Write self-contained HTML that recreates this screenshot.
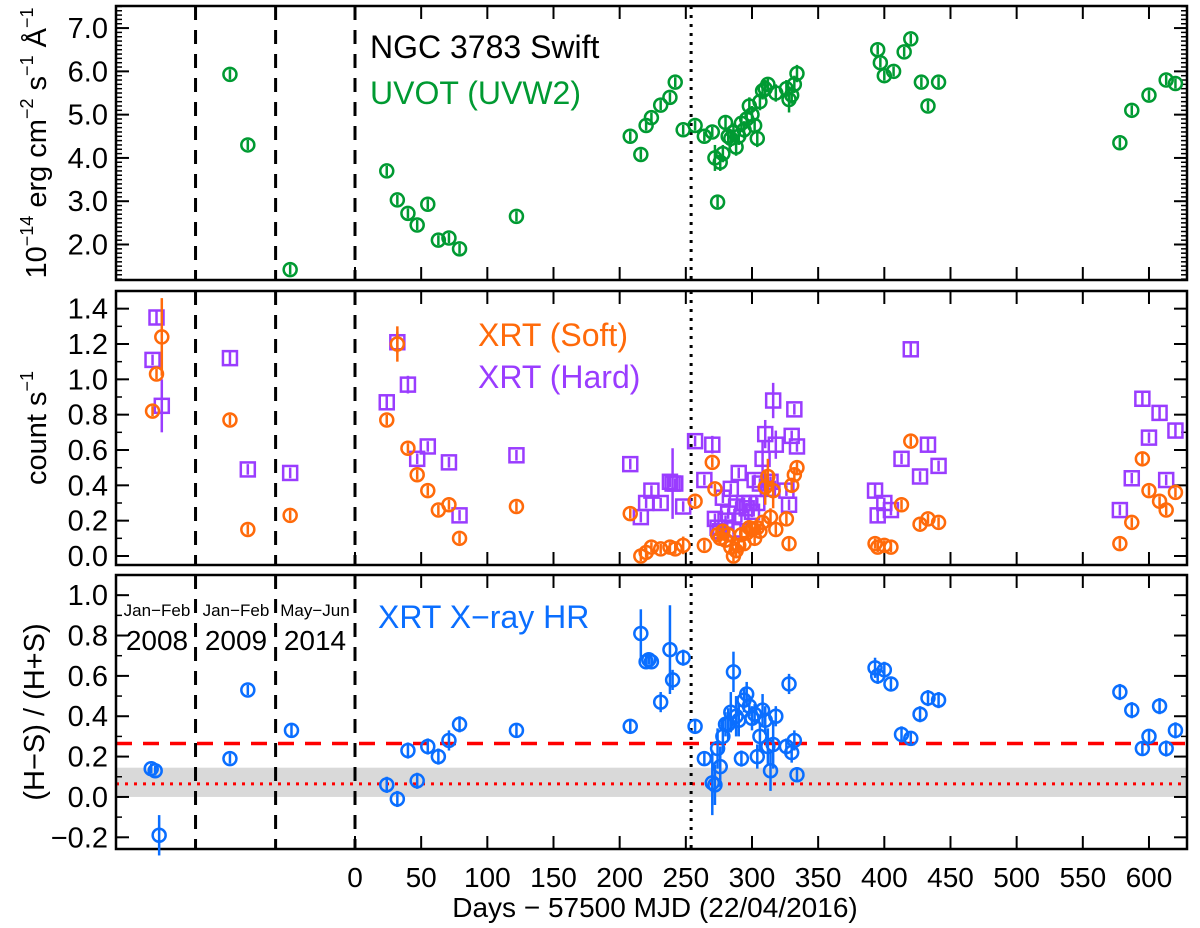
<!DOCTYPE html>
<html><head><meta charset="utf-8"><style>
html,body{margin:0;padding:0;background:#fff;}
svg{display:block;font-family:"Liberation Sans",Arial,sans-serif;}
</style></head><body>
<svg id="chart" width="1200" height="928" viewBox="0 0 1200 928" xmlns="http://www.w3.org/2000/svg"></svg>
<script>
// ---- data ----
const uvDays=[-94.5,-81,-49,24,32,40,47,55,63,71,79,122,208,216,220,224,231,238,242,248,257,264,270,272,274,276,278,280,282,284,286,288,290,292,294,296,298,300,302,304,306,308,310,312,318,326,328,330,332,334,395,397,400,407,415,420,428,433,441,578,587,600,613,620];
const uvVals=[5.93,4.3,1.42,3.7,3.03,2.72,2.45,2.93,2.1,2.15,1.9,2.65,4.5,4.08,4.75,4.93,5.22,5.4,5.75,4.65,4.75,4.5,4.6,4.0,2.98,3.9,4.1,4.82,4.5,4.45,4.6,4.25,4.5,4.8,4.65,4.9,5.2,5.0,4.75,4.45,5.3,5.55,5.6,5.7,5.5,5.6,5.35,5.45,5.7,5.95,6.5,6.2,5.9,6.0,6.45,6.75,5.75,5.2,5.75,4.35,5.1,5.45,5.8,5.72];
const uvErr=[0.05,0.05,0.05,0.05,0.05,0.05,0.05,0.05,0.05,0.05,0.05,0.05,0.08,0.08,0.08,0.08,0.08,0.08,0.1,0.08,0.08,0.08,0.08,0.3,0.12,0.2,0.2,0.15,0.2,0.2,0.2,0.2,0.2,0.2,0.2,0.15,0.2,0.2,0.15,0.2,0.2,0.2,0.2,0.15,0.2,0.2,0.3,0.2,0.2,0.2,0.1,0.1,0.1,0.1,0.1,0.1,0.1,0.1,0.1,0.1,0.1,0.1,0.1,0.1];

const softDays=[-153,-150,-146,-94.5,-81,-49,24,32,40,47,55,63,71,79,122,208,216,220,224,231,238,242,248,257,264,270,272,274,276,278,280,282,284,286,288,290,292,294,296,298,300,302,304,306,308,310,312,314,316,318,326,328,330,332,334,393,395,400,405,413,420,427,433,441,578,587,595,600,608,613,620];
const softVals=[0.82,1.03,1.24,0.77,0.15,0.23,0.77,1.2,0.61,0.46,0.37,0.26,0.29,0.1,0.28,0.24,0.0,0.02,0.05,0.04,0.05,0.04,0.06,0.31,0.06,0.53,0.38,0.12,0.1,0.14,0.09,0.12,0.05,0.0,0.03,0.06,0.12,0.07,0.13,0.16,0.15,0.1,0.16,0.14,0.19,0.39,0.45,0.22,0.37,0.15,0.21,0.07,0.4,0.46,0.5,0.07,0.05,0.06,0.05,0.29,0.65,0.18,0.21,0.19,0.07,0.19,0.55,0.37,0.31,0.26,0.36];
const softErr=[0.02,0.02,0.22,0.02,0.02,0.02,0.02,0.1,0.02,0.02,0.02,0.02,0.02,0.02,0.02,0.02,0.02,0.02,0.02,0.02,0.02,0.02,0.05,0.02,0.02,0.02,0.02,0.03,0.03,0.03,0.03,0.03,0.03,0.03,0.03,0.03,0.03,0.03,0.03,0.03,0.03,0.03,0.03,0.03,0.03,0.1,0.1,0.05,0.1,0.03,0.03,0.03,0.03,0.03,0.03,0.02,0.02,0.02,0.02,0.02,0.02,0.02,0.02,0.02,0.02,0.02,0.03,0.02,0.02,0.02,0.02];

const hardDays=[-153,-150,-146,-94.5,-81,-49,24,32,40,47,55,71,79,122,208,216,220,224,231,238,240,242,248,257,264,270,272,274,276,278,280,282,284,286,288,290,292,294,296,298,300,302,304,306,308,310,312,314,316,318,326,328,330,332,334,393,395,400,405,413,420,427,433,441,578,587,595,600,608,613,620];
const hardVals=[1.11,1.35,0.85,1.12,0.49,0.47,0.87,1.21,0.97,0.55,0.62,0.53,0.23,0.57,0.52,0.22,0.3,0.37,0.3,0.42,0.41,0.41,0.28,0.65,0.43,0.63,0.21,0.16,0.14,0.33,0.2,0.24,0.38,0.15,0.28,0.47,0.22,0.3,0.27,0.3,0.25,0.43,0.3,0.41,0.55,0.69,0.38,0.42,0.88,0.63,0.37,0.29,0.68,0.83,0.62,0.37,0.23,0.3,0.26,0.55,1.17,0.45,0.63,0.51,0.26,0.44,0.89,0.67,0.81,0.43,0.71];
const hardErr=[0.03,0.04,0.15,0.04,0.03,0.03,0.04,0.06,0.05,0.03,0.03,0.03,0.03,0.03,0.03,0.03,0.03,0.03,0.03,0.03,0.2,0.03,0.03,0.03,0.03,0.05,0.03,0.03,0.03,0.03,0.03,0.03,0.03,0.03,0.03,0.03,0.03,0.03,0.03,0.03,0.03,0.03,0.03,0.03,0.1,0.08,0.03,0.03,0.1,0.08,0.03,0.03,0.03,0.03,0.03,0.04,0.04,0.03,0.03,0.03,0.04,0.03,0.04,0.03,0.03,0.03,0.04,0.03,0.04,0.03,0.04];

const hrDays=[-154,-151,-148,-94.5,-81,-48,24,32,40,47,55,63,71,79,122,208,216,220,222,224,231,238,240,248,257,264,270,272,274,276,278,280,282,284,286,288,290,292,294,296,298,300,302,304,306,308,310,312,314,316,318,326,328,330,332,334,393,395,400,405,413,420,427,433,441,578,587,595,600,608,613,620];
const hrVals=[0.14,0.13,-0.19,0.19,0.53,0.33,0.06,-0.01,0.23,0.08,0.25,0.2,0.28,0.36,0.33,0.35,0.81,0.67,0.68,0.67,0.47,0.73,0.58,0.69,0.35,0.19,0.07,0.06,0.24,0.15,0.3,0.36,0.36,0.42,0.62,0.4,0.38,0.19,0.48,0.51,0.45,0.39,0.41,0.2,0.3,0.43,0.38,0.25,0.13,0.26,0.4,0.25,0.56,0.22,0.28,0.11,0.64,0.6,0.63,0.56,0.31,0.29,0.41,0.49,0.48,0.52,0.43,0.24,0.3,0.45,0.24,0.33];
const hrErr=[0.02,0.02,0.1,0.02,0.02,0.03,0.04,0.04,0.04,0.04,0.04,0.04,0.05,0.04,0.03,0.03,0.12,0.03,0.02,0.02,0.05,0.22,0.05,0.04,0.03,0.03,0.16,0.1,0.1,0.1,0.08,0.06,0.08,0.1,0.1,0.1,0.08,0.04,0.06,0.06,0.05,0.06,0.05,0.06,0.07,0.08,0.07,0.09,0.1,0.12,0.05,0.04,0.05,0.05,0.05,0.03,0.05,0.04,0.04,0.03,0.04,0.03,0.04,0.04,0.04,0.04,0.04,0.03,0.03,0.04,0.04,0.04];

const xTicks=[0,50,100,150,200,250,300,350,400,450,500,550,600];
const dividerDays=[-120.5,-60,0];
const nowDay=254;
const hrMean=0.265, hrLow=0.065, bandLo=0, bandHi=0.145;

// ---- layout ----
const NS="http://www.w3.org/2000/svg";
const svg=document.getElementById('chart');
const X0=116, X1=1187;
const xs=d=>355+1.3233*d;
const panels=[
 {name:'uvot-panel',top:6,bot:280,min:1.18,max:7.51,major:[2,3,4,5,6,7],minor:0.1,fmt:v=>v.toFixed(1)},
 {name:'xrt-count-panel',top:291,bot:565,min:-0.051,max:1.5,major:[0,0.2,0.4,0.6,0.8,1.0,1.2,1.4],minor:0.1,fmt:v=>v.toFixed(1)},
 {name:'hardness-ratio-panel',top:575,bot:849,min:-0.258,max:1.1,major:[-0.2,0,0.2,0.4,0.6,0.8,1.0],minor:0.1,fmt:v=>v.toFixed(1).replace('-','\u2212')}
];
panels.forEach(p=>{p.ys=v=>p.bot-(v-p.min)/(p.max-p.min)*(p.bot-p.top);});
function el(tag,attrs,parent){const e=document.createElementNS(NS,tag);for(const k in attrs)e.setAttribute(k,attrs[k]);(parent||svg).appendChild(e);return e;}

const P3=panels[2];
const band=el('rect',{x:X0,y:P3.ys(bandHi),width:X1-X0,height:P3.ys(bandLo)-P3.ys(bandHi),fill:'#d9d9d9'});


const ml=el('line',{x1:X0,x2:X1,y1:P3.ys(hrMean),y2:P3.ys(hrMean),stroke:'#ff0000','stroke-width':3.5,'stroke-dasharray':'16,11'});


const ll=el('line',{x1:X0,x2:X1,y1:P3.ys(hrLow),y2:P3.ys(hrLow),stroke:'#ff0000','stroke-width':3,'stroke-dasharray':'3,6'});



panels.forEach(p=>{
 dividerDays.forEach(d=>{
  const l=el('line',{x1:xs(d),x2:xs(d),y1:p.top,y2:p.bot,stroke:'#000','stroke-width':3,'stroke-dasharray':'14,10'});
  
  
 });
 const n=el('line',{x1:xs(nowDay),x2:xs(nowDay),y1:p.top,y2:p.bot,stroke:'#000','stroke-width':3,'stroke-dasharray':'3,6'});
 
 
});

panels.forEach((p,i)=>{
 const g=el('g',{});
 
 
 el('rect',{x:X0,y:p.top,width:X1-X0,height:p.bot-p.top,fill:'none',stroke:'#000','stroke-width':2.5},g);
 const n0=Math.ceil(p.min/p.minor-1e-6), n1=Math.floor(p.max/p.minor+1e-6);
 for(let k=n0;k<=n1;k++){const y=p.ys(k*p.minor);
  el('line',{x1:X0,x2:X0+6,y1:y,y2:y,stroke:'#000','stroke-width':1.5},g);
  el('line',{x1:X1-6,x2:X1,y1:y,y2:y,stroke:'#000','stroke-width':1.5},g);}
 p.major.forEach(v=>{const y=p.ys(v);
  el('line',{x1:X0,x2:X0+13,y1:y,y2:y,stroke:'#000','stroke-width':2},g);
  el('line',{x1:X1-13,x2:X1,y1:y,y2:y,stroke:'#000','stroke-width':2},g);
  const t=el('text',{x:X0-8,y:y+10,'text-anchor':'end','font-size':29,fill:'#000'},g);
  t.textContent=p.fmt(v);
  
  
 });
 xTicks.forEach(d=>{const x=xs(d);
  el('line',{x1:x,x2:x,y1:p.bot,y2:p.bot-13,stroke:'#000','stroke-width':2},g);
  el('line',{x1:x,x2:x,y1:p.top,y2:p.top+13,stroke:'#000','stroke-width':2},g);
  if(i===2){const t=el('text',{x:x,y:887,'text-anchor':'middle','font-size':28,fill:'#000'},g);
   t.textContent=d;
   
   }
 });
});

function series(name,days,vals,errs,p,color,shape){
 const g=el('g',{});
 
 
 days.forEach((d,i)=>{
  const x=xs(d),y=p.ys(vals[i]),e=errs[i]*(p.bot-p.top)/(p.max-p.min);
  el('line',{x1:x,x2:x,y1:y-Math.max(e,5),y2:y+Math.max(e,5),stroke:color,'stroke-width':2.5},g);
  let m;
  if(shape==='sq'){m=el('rect',{x:x-7,y:y-7,width:14,height:14,fill:'none',stroke:color,'stroke-width':2.5},g);}
  else{m=el('circle',{cx:x,cy:y,r:6.5,fill:'none',stroke:color,'stroke-width':2.5},g);}
  
  
 });
}
series('uvw2-series',uvDays,uvVals,uvErr,panels[0],'#009a32','c');
series('xrt-hard-series',hardDays,hardVals,hardErr,panels[1],'#9a3cff','sq');
series('xrt-soft-series',softDays,softVals,softErr,panels[1],'#ff6a0a','c');
series('hardness-ratio-series',hrDays,hrVals,hrErr,panels[2],'#0a6eff','c');

function txt(name,x,y,s,size,color,anchor,rot){
 const t=el('text',{x:x,y:y,'font-size':size,fill:color,'text-anchor':anchor||'start'});
 if(rot)t.setAttribute('transform','rotate(-90 '+x+' '+y+')');
 t.innerHTML=s;
 
 
 return t;
}
txt('title-ngc3783',370,58,'NGC 3783 Swift',32,'#000');
txt('legend-uvot',370,104,'UVOT (UVW2)',32,'#009a32');
txt('legend-xrt-soft',478,346,'XRT (Soft)',32,'#ff6a0a');
txt('legend-xrt-hard',478,388,'XRT (Hard)',32,'#9a3cff');
txt('legend-xrt-hr',378,628,'XRT X\u2212ray HR',32,'#0a6eff');
txt('period-label-2008-months',157,616,'Jan\u2212Feb',17,'#000','middle');
txt('period-label-2008-year',157,650,'2008',28,'#000','middle');
txt('period-label-2009-months',236,616,'Jan\u2212Feb',17,'#000','middle');
txt('period-label-2009-year',236,650,'2009',28,'#000','middle');
txt('period-label-2014-months',315,616,'May\u2212Jun',17,'#000','middle');
txt('period-label-2014-year',315,650,'2014',28,'#000','middle');
txt('x-axis-title',655,917,'Days \u2212 57500 MJD (22/04/2016)',28,'#000','middle');
txt('y-axis-title-uvot',46,143,'10<tspan font-size="18" dy="-13">\u221214</tspan><tspan dy="13"> erg cm</tspan><tspan font-size="18" dy="-13">\u22122</tspan><tspan dy="13"> s</tspan><tspan font-size="18" dy="-13">\u22121</tspan><tspan dy="13"> \u00c5</tspan><tspan font-size="18" dy="-13">\u22121</tspan>',29,'#000','middle',true);
txt('y-axis-title-count',46,428,'count s<tspan font-size="18" dy="-13">\u22121</tspan>',29,'#000','middle',true);
txt('y-axis-title-hr',44,712,'(H\u2212S) / (H+S)',29,'#000','middle',true);
</script>
</body></html>
